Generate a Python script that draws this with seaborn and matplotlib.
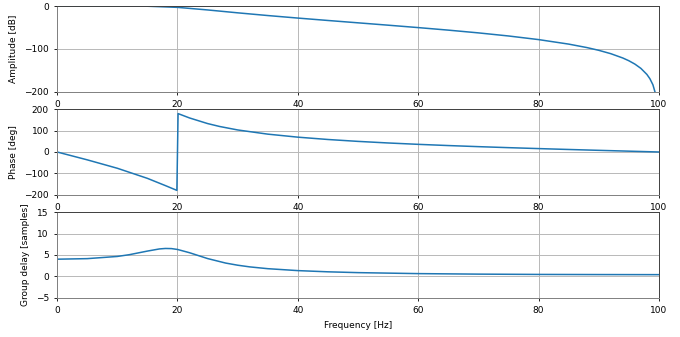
import matplotlib
matplotlib.use("Agg")
import matplotlib.pyplot as plt
import seaborn as sns
import pandas as pd

# Frequency response of a 4th-order low-pass (cutoff 20 Hz, fs = 200 Hz)
amp_freq = [0, 5, 10, 15, 20, 25, 30, 35, 40, 45, 50, 55, 60, 65, 70, 75,
            80, 85, 88, 90, 92, 94, 95, 96, 97, 98, 98.5, 99, 99.5, 99.8]
amp_db = [0.0, 0.0, -0.01, -0.37, -3.01, -9.02, -15.75, -22.07, -27.97,
          -33.58, -39.06, -44.54, -50.16, -56.07, -62.48, -69.68, -78.12,
          -88.63, -96.62, -103.08, -110.94, -121.01, -127.38, -135.16,
          -145.17, -159.27, -169.27, -183.36, -207.45, -239.3]

phase_freq = [0, 5, 10, 15, 18, 19.9, 20.1, 22, 25, 27, 30, 35, 40, 45, 50,
              55, 60, 65, 70, 75, 80, 85, 90, 95, 100]
phase_deg = [0.0, -36.57, -75.82, -122.85, -156.75, -178.9, 178.9, 158.62,
             132.49, 118.87, 102.71, 83.18, 69.09, 58.22, 49.41, 42.02,
             35.62, 29.98, 24.88, 20.20, 15.83, 11.69, 7.71, 3.83, 0.0]

gd_freq = [0, 5, 10, 12, 15, 17, 18, 19, 20, 22, 25, 28, 30, 32, 35, 40,
           45, 50, 60, 70, 80, 90, 100]
gd_samples = [4.02, 4.15, 4.66, 5.07, 5.91, 6.41, 6.52, 6.49, 6.29, 5.53,
              4.17, 3.12, 2.62, 2.23, 1.81, 1.36, 1.08, 0.89, 0.66, 0.54,
              0.47, 0.44, 0.42]

x_ticks = [0, 20, 40, 60, 80, 100]

plt.rcParams.update({
    "font.size": 6.5,
    "axes.linewidth": 0.7,
    "xtick.major.size": 2.5,
    "ytick.major.size": 2.5,
    "xtick.major.width": 0.6,
    "ytick.major.width": 0.6,
    "grid.linewidth": 0.7,
    "grid.color": "#b8b8b8",
})

fig, axes = plt.subplots(3, 1, figsize=(6.8, 3.37), dpi=100)
fig.subplots_adjust(left=0.084, right=0.969, top=0.982, bottom=0.116,
                    hspace=0.2)

panels = [
    (amp_freq, amp_db, "Amplitude [dB]", (-200, 0), [-200, -100, 0]),
    (phase_freq, phase_deg, "Phase [deg]", (-200, 200),
     [-200, -100, 0, 100, 200]),
    (gd_freq, gd_samples, "Group delay [samples]", (-5, 15),
     [-5, 0, 5, 10, 15]),
]

for ax, (fx, fy, label, ylim, yticks) in zip(axes, panels):
    df = pd.DataFrame({"f": fx, "v": fy})
    sns.lineplot(data=df, x="f", y="v", ax=ax, color="#1f77b4",
                 linewidth=1.1, estimator=None, sort=False)
    ax.set_xlim(0, 100)
    ax.set_ylim(*ylim)
    ax.set_xticks(x_ticks)
    ax.set_yticks(yticks)
    ax.set_ylabel(label)
    ax.set_xlabel("")
    ax.grid(True)
    for side in ("left", "bottom"):
        ax.spines[side].set_color("#808080")
    for side in ("top", "right"):
        ax.spines[side].set_color("#404040")

axes[2].set_xlabel("Frequency [Hz]")

fig.savefig("out.png", dpi=100)
